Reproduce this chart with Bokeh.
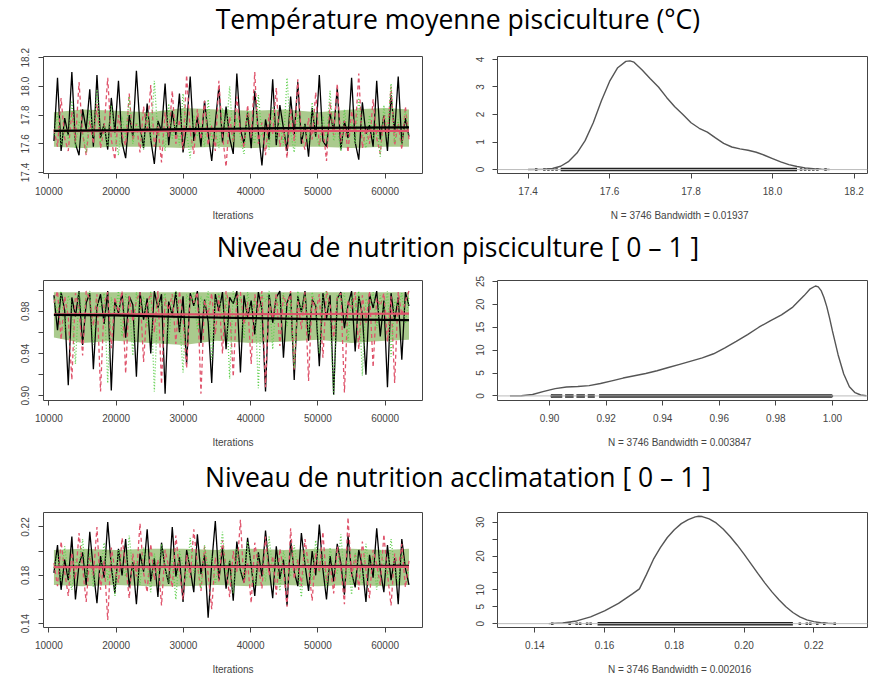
import numpy as np
from bokeh.plotting import figure
from bokeh.layouts import column, row
from bokeh.models import Range1d, FixedTicker, Span, Label, NumeralTickFormatter
from bokeh.embed import file_html
from bokeh.resources import INLINE

# ---------------- data ----------------
section_titles = [
    "Température moyenne pisciculture (°C)",
    "Niveau de nutrition pisciculture [ 0 – 1 ]",
    "Niveau de nutrition acclimatation [ 0 – 1 ]",
]
density_labels = [
    "N = 3746   Bandwidth = 0.01937",
    "N = 3746   Bandwidth = 0.003847",
    "N = 3746   Bandwidth = 0.002016",
]
iter_first, iter_last = 10750, 63550
iter_ticks = [10000, 20000, 30000, 40000, 50000, 60000]

temp_chain1 = [17.62, 18.06, 17.55, 17.78, 17.66, 18.10, 17.60, 17.52, 17.84, 17.70,
               17.98, 17.58, 18.08, 17.64, 17.74, 17.56, 17.92, 17.68, 18.04, 17.61,
               17.50, 17.80, 17.65, 18.11, 17.72, 17.57, 17.88, 17.63, 17.46, 17.76,
               17.69, 18.02, 17.59, 17.83, 17.66, 17.95, 17.54, 17.73, 18.07, 17.62,
               17.79, 17.58, 17.90, 17.67, 17.48, 17.75, 18.00, 17.61, 17.86, 17.64,
               17.53, 18.09, 17.70, 17.60, 17.82, 17.57, 17.97, 17.68, 17.45, 17.77,
               17.63, 18.05, 17.59, 17.87, 17.71, 17.55, 17.93, 17.66, 18.03, 17.60,
               17.74, 17.51, 17.85, 17.65, 18.08, 17.62, 17.58, 17.81, 17.69, 17.99,
               17.56, 17.76, 17.64, 18.06, 17.61, 17.49, 17.89, 17.67, 17.73, 17.58,
               18.04, 17.63, 17.80, 17.55, 17.94, 17.68, 18.07, 17.60, 17.78, 17.65]
temp_chain2 = [17.70, 17.58, 17.92, 17.64, 17.55, 17.83, 17.61, 18.03, 17.67, 17.52,
               17.76, 17.60, 17.88, 17.57, 17.71, 18.06, 17.63, 17.49, 17.80, 17.66,
               17.59, 17.95, 17.62, 17.74, 17.54, 17.86, 17.68, 18.01, 17.58, 17.72,
               17.47, 17.82, 17.65, 17.97, 17.60, 17.77, 17.56, 18.08, 17.69, 17.53,
               17.84, 17.63, 17.90, 17.59, 17.73, 17.55, 18.04, 17.66, 17.44, 17.79,
               17.61, 17.93, 17.68, 17.57, 17.87, 17.64, 18.10, 17.60, 17.75, 17.52,
               17.81, 17.67, 17.99, 17.58, 17.70, 17.50, 17.85, 17.62, 18.05, 17.65,
               17.56, 17.78, 17.63, 17.96, 17.59, 17.72, 17.48, 17.89, 17.66, 18.02,
               17.61, 17.76, 17.54, 17.83, 17.68, 18.09, 17.57, 17.71, 17.60, 17.91,
               17.64, 17.53, 17.80, 17.67, 18.00, 17.59, 17.74, 17.56, 17.86, 17.63]
temp_chain3 = [17.66, 17.81, 17.59, 17.72, 17.63, 17.90, 17.57, 17.76, 17.68, 17.54,
               17.84, 17.65, 17.98, 17.61, 17.73, 17.58, 17.87, 17.67, 17.52, 17.79,
               17.64, 17.93, 17.60, 17.75, 17.69, 17.56, 17.82, 17.62, 18.04, 17.66,
               17.71, 17.55, 17.88, 17.63, 17.77, 17.59, 17.95, 17.68, 17.50, 17.80,
               17.65, 17.74, 17.58, 17.91, 17.62, 17.70, 17.57, 17.85, 17.67, 18.00,
               17.61, 17.78, 17.64, 17.53, 17.83, 17.69, 17.60, 17.94, 17.66, 17.72,
               17.56, 17.86, 17.63, 17.76, 17.59, 18.06, 17.68, 17.54, 17.81, 17.65,
               17.73, 17.61, 17.89, 17.67, 17.58, 17.79, 17.64, 17.97, 17.62, 17.71,
               17.55, 17.84, 17.66, 17.75, 17.60, 17.92, 17.68, 17.57, 17.80, 17.63,
               17.74, 17.51, 17.87, 17.65, 18.02, 17.61, 17.77, 17.59, 17.83, 17.66]

nutp_chain1 = [0.995, 0.962, 0.998, 0.981, 0.910, 0.993, 0.975, 0.999, 0.948, 0.988,
               0.997, 0.925, 0.984, 0.996, 0.968, 0.999, 0.905, 0.990, 0.978, 0.997,
               0.955, 0.994, 0.986, 0.918, 0.998, 0.972, 0.992, 0.940, 0.999, 0.983,
               0.996, 0.902, 0.989, 0.976, 0.998, 0.960, 0.994, 0.930, 0.997, 0.985,
               0.999, 0.950, 0.991, 0.970, 0.912, 0.996, 0.980, 0.998, 0.944, 0.993,
               0.987, 0.999, 0.922, 0.995, 0.974, 0.990, 0.958, 0.998, 0.982, 0.904,
               0.996, 0.969, 0.993, 0.999, 0.936, 0.988, 0.997, 0.915, 0.994, 0.979,
               0.999, 0.952, 0.991, 0.985, 0.928, 0.997, 0.973, 0.995, 0.901, 0.992,
               0.998, 0.964, 0.986, 0.999, 0.942, 0.994, 0.977, 0.920, 0.996, 0.983,
               0.999, 0.956, 0.990, 0.908, 0.997, 0.971, 0.993, 0.934, 0.998, 0.985]
nutp_chain2 = [0.988, 0.999, 0.953, 0.994, 0.975, 0.915, 0.997, 0.983, 0.938, 0.999,
               0.991, 0.966, 0.996, 0.904, 0.987, 0.998, 0.945, 0.993, 0.979, 0.999,
               0.921, 0.995, 0.970, 0.990, 0.998, 0.932, 0.986, 0.997, 0.960, 0.999,
               0.911, 0.992, 0.981, 0.996, 0.949, 0.999, 0.974, 0.926, 0.994, 0.988,
               0.998, 0.902, 0.990, 0.977, 0.997, 0.958, 0.995, 0.940, 0.999, 0.984,
               0.918, 0.993, 0.998, 0.967, 0.989, 0.930, 0.996, 0.980, 0.999, 0.908,
               0.992, 0.972, 0.997, 0.947, 0.995, 0.985, 0.999, 0.924, 0.991, 0.963,
               0.998, 0.914, 0.994, 0.978, 0.996, 0.936, 0.999, 0.987, 0.955, 0.993,
               0.997, 0.903, 0.990, 0.982, 0.998, 0.944, 0.995, 0.969, 0.999, 0.927,
               0.992, 0.985, 0.997, 0.951, 0.994, 0.912, 0.998, 0.976, 0.990, 0.999]
nutp_chain3 = [0.992, 0.978, 0.999, 0.960, 0.995, 0.986, 0.930, 0.998, 0.972, 0.994,
               0.999, 0.948, 0.990, 0.983, 0.997, 0.912, 0.993, 0.976, 0.999, 0.956,
               0.996, 0.988, 0.938, 0.998, 0.980, 0.994, 0.965, 0.999, 0.904, 0.991,
               0.985, 0.997, 0.950, 0.993, 0.999, 0.975, 0.922, 0.996, 0.987, 0.998,
               0.962, 0.994, 0.981, 0.999, 0.934, 0.990, 0.997, 0.970, 0.995, 0.916,
               0.999, 0.984, 0.993, 0.954, 0.998, 0.977, 0.992, 0.907, 0.996, 0.989,
               0.999, 0.944, 0.994, 0.982, 0.997, 0.966, 0.991, 0.926, 0.999, 0.979,
               0.995, 0.958, 0.998, 0.986, 0.940, 0.993, 0.999, 0.973, 0.901, 0.996,
               0.988, 0.997, 0.952, 0.994, 0.980, 0.999, 0.919, 0.992, 0.985, 0.998,
               0.964, 0.995, 0.976, 0.999, 0.937, 0.991, 0.983, 0.997, 0.968, 0.994]

nuta_chain1 = [0.182, 0.205, 0.168, 0.193, 0.176, 0.212, 0.160, 0.189, 0.199, 0.172,
               0.216, 0.184, 0.157, 0.196, 0.178, 0.224, 0.187, 0.165, 0.202, 0.180,
               0.210, 0.170, 0.191, 0.156, 0.198, 0.183, 0.218, 0.175, 0.194, 0.162,
               0.207, 0.186, 0.173, 0.220, 0.179, 0.195, 0.158, 0.201, 0.185, 0.166,
               0.214, 0.181, 0.197, 0.145, 0.190, 0.225, 0.176, 0.203, 0.169, 0.192,
               0.159, 0.208, 0.184, 0.174, 0.211, 0.188, 0.163, 0.199, 0.179, 0.217,
               0.186, 0.161, 0.204, 0.177, 0.193, 0.155, 0.209, 0.183, 0.171, 0.215,
               0.189, 0.167, 0.200, 0.180, 0.222, 0.185, 0.160, 0.196, 0.175, 0.206,
               0.190, 0.164, 0.213, 0.182, 0.170, 0.201, 0.187, 0.158, 0.197, 0.178,
               0.219, 0.184, 0.166, 0.205, 0.176, 0.194, 0.156, 0.210, 0.186, 0.172]
nuta_chain2 = [0.190, 0.171, 0.208, 0.183, 0.163, 0.199, 0.177, 0.215, 0.186, 0.158,
               0.196, 0.180, 0.220, 0.168, 0.192, 0.143, 0.203, 0.185, 0.174, 0.211,
               0.188, 0.161, 0.198, 0.179, 0.223, 0.182, 0.166, 0.206, 0.176, 0.193,
               0.155, 0.201, 0.187, 0.170, 0.213, 0.184, 0.160, 0.197, 0.178, 0.218,
               0.189, 0.167, 0.204, 0.181, 0.152, 0.195, 0.175, 0.209, 0.186, 0.162,
               0.200, 0.183, 0.226, 0.173, 0.191, 0.157, 0.207, 0.188, 0.169, 0.212,
               0.180, 0.196, 0.164, 0.202, 0.185, 0.154, 0.219, 0.177, 0.193, 0.171,
               0.210, 0.187, 0.159, 0.199, 0.182, 0.216, 0.174, 0.190, 0.165, 0.204,
               0.186, 0.156, 0.228, 0.179, 0.197, 0.168, 0.208, 0.184, 0.161, 0.201,
               0.189, 0.172, 0.214, 0.181, 0.155, 0.198, 0.185, 0.206, 0.170, 0.192]
nuta_chain3 = [0.186, 0.197, 0.175, 0.204, 0.181, 0.168, 0.193, 0.188, 0.210, 0.178,
               0.199, 0.170, 0.190, 0.184, 0.207, 0.176, 0.195, 0.163, 0.201, 0.187,
               0.179, 0.213, 0.183, 0.192, 0.172, 0.203, 0.189, 0.166, 0.198, 0.180,
               0.206, 0.185, 0.174, 0.194, 0.160, 0.200, 0.188, 0.177, 0.211, 0.182,
               0.191, 0.169, 0.205, 0.186, 0.196, 0.173, 0.189, 0.216, 0.180, 0.193,
               0.165, 0.202, 0.184, 0.178, 0.208, 0.187, 0.171, 0.197, 0.190, 0.175,
               0.212, 0.183, 0.194, 0.167, 0.200, 0.188, 0.179, 0.205, 0.185, 0.162,
               0.198, 0.189, 0.176, 0.209, 0.182, 0.195, 0.170, 0.203, 0.186, 0.181,
               0.214, 0.177, 0.192, 0.164, 0.199, 0.187, 0.174, 0.206, 0.183, 0.196,
               0.168, 0.201, 0.190, 0.178, 0.210, 0.185, 0.173, 0.197, 0.188, 0.180]

# dense central band of the traces (where the chains overlap most), read per ~5000 iterations
band_iters = [10750, 15000, 20000, 25000, 30000, 35000, 40000, 45000, 50000, 55000, 60000, 63550]
temp_band_lo = [17.58, 17.57, 17.58, 17.58, 17.57, 17.58, 17.57, 17.58, 17.58, 17.57, 17.58, 17.58]
temp_band_hi = [17.82, 17.84, 17.83, 17.82, 17.85, 17.84, 17.83, 17.84, 17.82, 17.84, 17.85, 17.84]
nutp_band_lo = [0.955, 0.950, 0.952, 0.950, 0.948, 0.952, 0.950, 0.951, 0.953, 0.950, 0.952, 0.953]
nutp_band_hi = [0.998, 0.998, 0.998, 0.998, 0.998, 0.998, 0.998, 0.998, 0.998, 0.998, 0.998, 0.998]
nuta_band_lo = [0.172, 0.171, 0.172, 0.171, 0.171, 0.172, 0.171, 0.172, 0.171, 0.172, 0.171, 0.172]
nuta_band_hi = [0.201, 0.202, 0.201, 0.202, 0.202, 0.201, 0.202, 0.201, 0.202, 0.202, 0.201, 0.202]

smooth_iters = [10750, 20000, 30000, 40000, 50000, 63550]
temp_smooth1 = [17.690, 17.695, 17.702, 17.707, 17.711, 17.715]
temp_smooth2 = [17.690, 17.689, 17.690, 17.691, 17.690, 17.690]
nutp_smooth1 = [0.9765, 0.9760, 0.9745, 0.9735, 0.9725, 0.9715]
nutp_smooth2 = [0.9770, 0.9772, 0.9770, 0.9771, 0.9773, 0.9776]
nuta_smooth1 = [0.1870, 0.1872, 0.1873, 0.1874, 0.1876, 0.1878]
nuta_smooth2 = [0.1868, 0.1868, 0.1869, 0.1869, 0.1870, 0.1870]

temp_dens_x = [17.40, 17.44, 17.46, 17.48, 17.50, 17.52, 17.54, 17.56, 17.58, 17.60,
               17.62, 17.64, 17.65, 17.66, 17.68, 17.70, 17.72, 17.74, 17.76, 17.78,
               17.80, 17.82, 17.84, 17.86, 17.88, 17.90, 17.92, 17.94, 17.96, 17.98,
               18.00, 18.02, 18.04, 18.06, 18.08, 18.10, 18.12, 18.14]
temp_dens_y = [0.00, 0.01, 0.04, 0.12, 0.30, 0.60, 1.05, 1.70, 2.50, 3.20,
               3.70, 3.93, 3.95, 3.90, 3.62, 3.30, 3.00, 2.62, 2.28, 2.00,
               1.70, 1.50, 1.36, 1.15, 0.95, 0.82, 0.75, 0.70, 0.63, 0.52,
               0.40, 0.28, 0.18, 0.11, 0.06, 0.03, 0.01, 0.00]
nutp_dens_x = [0.886, 0.890, 0.894, 0.898, 0.902, 0.906, 0.910, 0.914, 0.918, 0.922,
               0.926, 0.930, 0.934, 0.938, 0.942, 0.946, 0.950, 0.954, 0.958, 0.962,
               0.966, 0.970, 0.974, 0.978, 0.982, 0.986, 0.990, 0.992, 0.994, 0.995,
               0.996, 0.997, 0.998, 0.999, 1.000, 1.002, 1.004, 1.006, 1.008, 1.010, 1.012]
nutp_dens_y = [0.0, 0.05, 0.3, 1.0, 1.6, 1.95, 2.05, 2.25, 2.7, 3.3,
               3.9, 4.4, 4.9, 5.5, 6.2, 6.9, 7.6, 8.3, 9.2, 10.5,
               11.9, 13.4, 15.0, 16.4, 17.7, 19.4, 21.9, 23.3, 24.0, 23.8,
               23.0, 21.5, 19.5, 17.0, 14.2, 9.0, 4.8, 2.0, 0.7, 0.2, 0.05]
nuta_dens_x = [0.144, 0.148, 0.152, 0.156, 0.160, 0.164, 0.168, 0.170, 0.172, 0.174,
               0.176, 0.178, 0.180, 0.182, 0.184, 0.186, 0.187, 0.188, 0.190, 0.192,
               0.194, 0.196, 0.198, 0.200, 0.202, 0.204, 0.206, 0.208, 0.210, 0.212,
               0.214, 0.216, 0.218, 0.220, 0.222, 0.224, 0.226]
nuta_dens_y = [0.0, 0.2, 0.8, 2.0, 3.8, 6.0, 8.8, 10.3, 14.5, 19.0,
               22.5, 25.5, 27.8, 29.6, 30.8, 31.6, 31.8, 31.7, 31.0, 29.8,
               28.0, 25.8, 23.3, 20.6, 17.7, 14.8, 12.0, 9.4, 7.1, 5.0,
               3.3, 2.0, 1.1, 0.6, 0.3, 0.1, 0.0]

temp_rug_lo, temp_rug_hi = [17.48], [18.06]
temp_rug_tail = [17.42, 17.44, 17.45, 17.46, 17.47, 18.07, 18.08, 18.09, 18.10, 18.11, 18.13]
nutp_rug_lo = [0.9005, 0.9055, 0.9095, 0.9135, 0.9175]
nutp_rug_hi = [0.9045, 0.9085, 0.9125, 0.9160, 0.9998]
nutp_rug_tail = [0.9008, 0.9998]
nuta_rug_lo, nuta_rug_hi = [0.158], [0.214]
nuta_rug_tail = [0.145, 0.150, 0.152, 0.153, 0.155, 0.156, 0.216, 0.218, 0.219, 0.221, 0.223, 0.226]

# ---------------- styling ----------------
CH_COLORS = ["#000000", "#DF536B", "#61D04F"]
CH_DASH = ["solid", "4 3", "1 2"]
AX = "#444444"
TICK_FONT = "Liberation Sans"
TITLE_FONT = "Open Sans"
W_TOTAL = 868


def style(p, xlabel):
    p.grid.grid_line_color = None
    p.outline_line_color = AX
    p.outline_line_width = 1
    p.outline_line_alpha = 1
    p.background_fill_color = "white"
    p.border_fill_color = "white"
    for ax in (p.xaxis[0], p.yaxis[0]):
        ax.axis_line_color = None
        ax.major_tick_in = 0
        ax.major_tick_out = 5
        ax.minor_tick_in = 0
        ax.minor_tick_out = 5
        ax.major_tick_line_color = AX
        ax.minor_tick_line_color = AX
        ax.major_label_text_font = TICK_FONT
        ax.major_label_text_font_size = "10px"
        ax.major_label_text_color = AX
        ax.major_label_standoff = 8
    p.yaxis[0].major_label_orientation = "vertical"
    p.xaxis[0].axis_label = xlabel
    p.xaxis[0].axis_label_text_font = TICK_FONT
    p.xaxis[0].axis_label_text_font_size = "10px"
    p.xaxis[0].axis_label_text_font_style = "normal"
    p.xaxis[0].axis_label_text_color = AX
    p.xaxis[0].axis_label_standoff = 12


def title_fig(text, h, anchor_from_top):
    t = figure(frame_width=W_TOTAL, frame_height=h, x_range=Range1d(0, 1), y_range=Range1d(0, h),
               output_backend="svg", toolbar_location=None, x_axis_type=None,
               y_axis_type=None, min_border=0)
    t.outline_line_color = None
    t.grid.grid_line_color = None
    t.background_fill_color = "white"
    t.border_fill_color = "white"
    t.add_layout(Label(x=0.527, y=h - anchor_from_top, text=text, text_align="center",
                       text_baseline="alphabetic", text_font=TITLE_FONT,
                       text_font_size="26.5px", text_color="#000000"))
    return t


def trace_fig(chains, smooths, smooth_order, band, yr, ymaj, ymin_ticks, fmt, fh, top, bottom):
    p = figure(frame_width=379, frame_height=fh, x_range=Range1d(9200, 65560), y_range=Range1d(*yr),
               output_backend="svg", toolbar_location=None,
               min_border_left=43, min_border_right=10, min_border_top=top, min_border_bottom=bottom)
    style(p, "Iterations")
    p.varea(x=band_iters, y1=band[0], y2=band[1], fill_color="#86b45c", fill_alpha=0.7)
    for vals, col, dash in zip(chains, CH_COLORS, CH_DASH):
        its = np.linspace(iter_first, iter_last, len(vals))
        p.line(its, vals, line_color=col, line_width=1.3, line_dash=dash)
    for k in smooth_order:
        p.line(smooth_iters, smooths[k], line_color=CH_COLORS[k], line_width=2.2)
    p.xaxis[0].ticker = FixedTicker(ticks=iter_ticks)
    p.xaxis[0].formatter = NumeralTickFormatter(format="0")
    p.yaxis[0].ticker = FixedTicker(ticks=ymaj, minor_ticks=ymin_ticks)
    p.yaxis[0].formatter = NumeralTickFormatter(format=fmt)
    p.yaxis[0].major_label_standoff = 9
    return p


def dens_fig(dx, dy, rug_lo, rug_hi, rug_tail, xr, yr, xticks, xfmt, ymaj, ymin_ticks,
             label, fh, top, bottom):
    p = figure(frame_width=370, frame_height=fh, x_range=Range1d(*xr), y_range=Range1d(*yr),
               output_backend="svg", toolbar_location=None,
               min_border_left=65, min_border_right=1, min_border_top=top, min_border_bottom=bottom)
    style(p, label)
    p.add_layout(Span(location=0, dimension="width", line_color="#BBBBBB", line_width=1))
    p.segment(x0=rug_lo, y0=[0] * len(rug_lo), x1=rug_hi, y1=[0] * len(rug_hi),
              line_color="#222222", line_width=3.5)
    p.scatter(rug_tail, [0] * len(rug_tail), marker="square", size=2.5,
              fill_color="#333333", line_color=None)
    p.line(dx, dy, line_color="#555555", line_width=1.4)
    p.xaxis[0].ticker = FixedTicker(ticks=xticks)
    p.xaxis[0].formatter = NumeralTickFormatter(format=xfmt)
    p.yaxis[0].ticker = FixedTicker(ticks=ymaj, minor_ticks=ymin_ticks)
    p.yaxis[0].formatter = NumeralTickFormatter(format="0")
    return p


# block geometry: (title height, text anchor from top), (frame height, border top, border bottom)
titles_geo = [(38, 18.5), (38, 18.7), (38, 19.2)]
plots_geo = [(117, 18, 55), (120, 14, 57), (115, 17, 50)]

tr1 = trace_fig([temp_chain1, temp_chain2, temp_chain3], [temp_smooth1, temp_smooth2], [1, 0],
                (temp_band_lo, temp_band_hi),
                (17.393, 18.209), [17.4, 17.6, 17.8, 18.0, 18.2], [], "0.0", *plots_geo[0])
de1 = dens_fig(temp_dens_x, temp_dens_y, temp_rug_lo, temp_rug_hi, temp_rug_tail,
               (17.325, 18.233), (-0.143, 4.107), [17.4, 17.6, 17.8, 18.0, 18.2], "0.0",
               [0, 1, 2, 3, 4], [], density_labels[0], *plots_geo[0])

tr2 = trace_fig([nutp_chain1, nutp_chain2, nutp_chain3], [nutp_smooth1, nutp_smooth2], [1, 0],
                (nutp_band_lo, nutp_band_hi),
                (0.8955, 1.009), [0.90, 0.94, 0.98], [0.92, 0.96, 1.00], "0.00", *plots_geo[1])
de2 = dens_fig(nutp_dens_x, nutp_dens_y, nutp_rug_lo, nutp_rug_hi, nutp_rug_tail,
               (0.8816, 1.0124), (-1.0, 25.2), [0.90, 0.92, 0.94, 0.96, 0.98, 1.00], "0.00",
               [0, 5, 10, 15, 20, 25], [], density_labels[1], *plots_geo[1])

tr3 = trace_fig([nuta_chain1, nuta_chain2, nuta_chain3], [nuta_smooth1, nuta_smooth2], [0, 1],
                (nuta_band_lo, nuta_band_hi),
                (0.1368, 0.232), [0.14, 0.18, 0.22], [0.16, 0.20], "0.00", *plots_geo[2])
de3 = dens_fig(nuta_dens_x, nuta_dens_y, nuta_rug_lo, nuta_rug_hi, nuta_rug_tail,
               (0.1293, 0.2354), (-1.14, 32.9), [0.14, 0.16, 0.18, 0.20, 0.22], "0.00",
               [0, 5, 10, 20, 30], [15, 25], density_labels[2], *plots_geo[2])

layout = column(
    title_fig(section_titles[0], *titles_geo[0]), row(tr1, de1),
    title_fig(section_titles[1], *titles_geo[1]), row(tr2, de2),
    title_fig(section_titles[2], *titles_geo[2]), row(tr3, de3),
)

open("out.html", "w").write(file_html(layout, INLINE))
